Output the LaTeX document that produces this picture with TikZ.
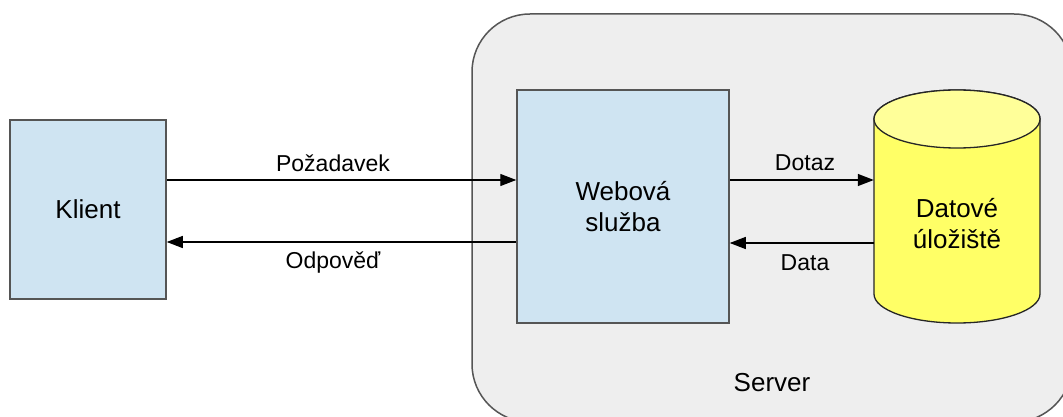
\documentclass[tikz,border=0pt]{standalone}
\usepackage{fontspec}
\setmainfont{Liberation Sans}
\usetikzlibrary{arrows.meta}
\definecolor{boxblue}{RGB}{207,228,242}
\definecolor{servergray}{RGB}{238,238,238}
\definecolor{edgegray}{RGB}{85,85,85}
\definecolor{dbyellow}{RGB}{255,255,102}
\definecolor{dbtop}{RGB}{255,255,153}
\tikzset{
  blockbox/.style={draw=edgegray, line width=1.5pt, fill=boxblue, inner sep=0pt, align=center, font=\fontsize{26}{30}\selectfont},
  flow/.style={line width=1.3pt, -{Triangle[length=16pt,width=12pt]}},
  lbl/.style={font=\fontsize{23}{27}\selectfont, inner sep=0pt},
}
\begin{document}
\begin{tikzpicture}[x=1pt,y=-1pt]
\useasboundingbox (0,0) rectangle (1063,417);
\fill[white] (0,0) rectangle (1063,417);
% server
\draw[draw=edgegray, line width=1.5pt, fill=servergray, rounded corners=58pt] (472,14) rectangle (1072,422);
\node[lbl, font=\fontsize{26}{30}\selectfont] (server) at (772,383) {Server};
% klient
\node[blockbox, minimum width=156pt, minimum height=179pt] (klient) at (88,209.5) {Klient};
% web
\node[blockbox, minimum width=212pt, minimum height=233pt] (web) at (623,206.5) {Webová\\[1pt]služba};
% database
\node[minimum width=166pt, minimum height=233pt, inner sep=0pt] (db) at (957,206.5) {};
\draw[draw=black!85, line width=1.3pt, fill=dbyellow]
  (874,119) -- (874,294) arc[start angle=180, end angle=360, x radius=83pt, y radius=29pt]
  -- (1040,119) arc[start angle=0, end angle=180, x radius=83pt, y radius=29pt] -- cycle;
\draw[draw=black!85, line width=1.3pt, fill=dbtop] (957,119) ellipse[x radius=83pt, y radius=29pt];
\node[align=center, font=\fontsize{26}{30}\selectfont] (dbtext) at (957,224) {Datové\\[1pt]úložiště};
% connectors
\draw[flow] (klient.east |- 0,180) -- (web.west |- 0,180);
\draw[flow] (web.west |- 0,242) -- (klient.east |- 0,242);
\draw[flow] (web.east |- 0,180) -- (db.west |- 0,180);
\draw[flow] (db.west |- 0,243) -- (web.east |- 0,243);
\node[lbl] (l1) at (333,163) {Požadavek};
\node[lbl] (l2) at (333,263) {Odpověď};
\node[lbl] (l3) at (805,163) {Dotaz};
\node[lbl] (l4) at (805,263) {Data};
\end{tikzpicture}
\end{document}
